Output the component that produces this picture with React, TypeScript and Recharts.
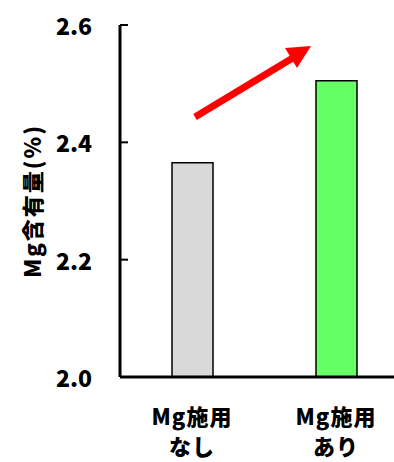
import { Bar, BarChart, Cell, Customized, XAxis, YAxis } from "recharts";

const categories = ["Mg施用\nなし", "Mg施用\nあり"];
const mgContent = [2.365, 2.505];
const barColors = ["#d9d9d9", "#66ff66"];
const yTicks = [2.0, 2.2, 2.4, 2.6];

const data = categories.map((name, i) => ({ name, value: mgContent[i] }));

const FONT = "'Noto Sans CJK JP', 'Noto Sans', sans-serif";

function YTick(props: any) {
  const { x, y, payload } = props;
  return (
    <g>
      <line x1={x + 28} x2={x + 36} y1={y} y2={y} stroke="#000" strokeWidth={2} />
      <text
        x={x}
        y={y}
        textAnchor="end"
        dominantBaseline="central"
        fontFamily={FONT}
        fontWeight={900}
        fontSize={23}
        fill="#000"
      >
        {Number(payload.value).toFixed(1)}
      </text>
    </g>
  );
}

function XTick(props: any) {
  const { x, payload } = props;
  const lines = String(payload.value).split("\n");
  return (
    <g>
      {lines.map((l, i) => (
        <text
          key={i}
          x={x}
          y={415 + i * 30}
          textAnchor="middle"
          dominantBaseline="central"
          fontFamily={FONT}
          fontWeight={900}
          fontSize={22}
          letterSpacing={1}
          fill="#000"
        >
          {l}
        </text>
      ))}
    </g>
  );
}

// red trend arrow between the two bars
function Arrow() {
  return (
    <g>
      <line x1={195} y1={117} x2={296} y2={56} stroke="#ff0000" strokeWidth={7} />
      <polygon points="311,46 285,48 297,68" fill="#ff0000" />
    </g>
  );
}

export default function App() {
  return (
    <div
      style={{
        position: "fixed",
        left: 0,
        top: 0,
        width: 394,
        height: 462,
        overflow: "hidden",
        background: "#fff",
      }}
    >
      <BarChart
        width={408}
        height={462}
        data={data}
        margin={{ top: 25, right: 0, left: 0, bottom: 0 }}
      >
        <YAxis
          domain={[2.0, 2.6]}
          ticks={yTicks}
          width={120}
          tickSize={0}
          tickMargin={28}
          tick={<YTick />}
          axisLine={{ stroke: "#000", strokeWidth: 3 }}
          label={{
            value: "Mg含有量(%)",
            angle: -90,
            position: "insideLeft",
            dx: 28,
            style: {
              fontFamily: FONT,
              fontWeight: 900,
              fontSize: 22,
              letterSpacing: 2,
              fill: "#000",
              textAnchor: "middle",
            },
          }}
        />
        <XAxis
          dataKey="name"
          height={85}
          tickLine={false}
          tick={<XTick />}
          axisLine={{ stroke: "#000", strokeWidth: 3 }}
        />
        <Bar
          dataKey="value"
          barSize={41}
          stroke="#000"
          strokeWidth={1.5}
          isAnimationActive={false}
        >
          {data.map((d, i) => (
            <Cell key={d.name} fill={barColors[i]} />
          ))}
        </Bar>
        <Customized component={<Arrow />} />
      </BarChart>
    </div>
  );
}
